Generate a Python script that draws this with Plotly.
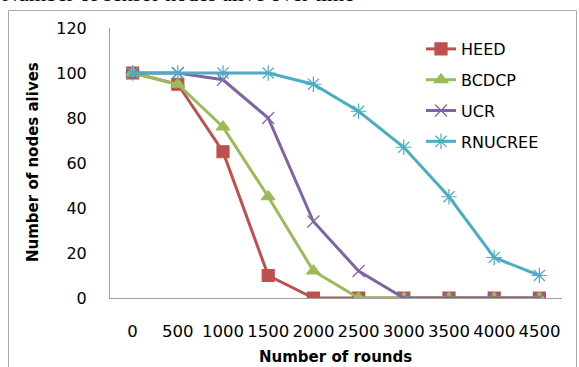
import plotly.graph_objects as go

rounds = ["0", "500", "1000", "1500", "2000", "2500", "3000", "3500", "4000", "4500"]
heed = [100, 95, 65, 10, 0, 0, 0, 0, 0, 0]
bcdcp = [100, 95, 76, 45, 12, 0, 0, 0, 0, 0]
ucr = [100, 100, 97, 80, 34, 12, 0, 0, 0, 0]
rnucree = [100, 100, 100, 100, 95, 83, 67, 45, 18, 10]
y_ticks = [0, 20, 40, 60, 80, 100, 120]

W, H = 579, 367
L, R, T, B = 110, 17, 28, 69
pw, ph = W - L - R, H - T - B

def px(x):
    return (x - L) / pw

def py(y):
    return (H - B - y) / ph

FONT = "DejaVu Sans"

fig = go.Figure()
series = [
    ("HEED", heed, "#C0504D", "square", 12),
    ("BCDCP", bcdcp, "#9BBB59", "triangle-up", 12),
    ("UCR", ucr, "#8064A2", "x-thin-open", 12),
    ("RNUCREE", rnucree, "#4BACC6", "asterisk-open", 13),
]
for name, vals, col, sym, sz in series:
    fig.add_trace(go.Scatter(
        x=rounds, y=vals, name=name, mode="lines+markers",
        line=dict(color=col, width=3),
        marker=dict(symbol=sym, size=sz, color=col,
                    line=dict(color=col, width=1.2)),
        legendgroup=name,
    ))

fig.update_layout(
    width=W, height=H,
    margin=dict(l=L, r=R, t=T, b=B),
    paper_bgcolor="white", plot_bgcolor="white",
    showlegend=True,
    legend=dict(x=px(421), y=py(32), xanchor="left", yanchor="top",
                font=dict(family=FONT, size=16, color="black"),
                bgcolor="rgba(0,0,0,0)", tracegroupgap=7),
    xaxis=dict(type="category", range=[-0.5, 9.5], showgrid=False,
               showline=True, linecolor="#A0A0A0", linewidth=1,
               ticks="", ticklabelstandoff=18,
               tickfont=dict(family=FONT, size=16.5, color="black")),
    yaxis=dict(range=[0, 120], tickvals=y_ticks, showgrid=False,
               showline=True, linecolor="#A0A0A0", linewidth=1,
               ticks="", ticklabelstandoff=19, zeroline=False,
               tickfont=dict(family=FONT, size=16, color="black")),
    annotations=[
        dict(text="<b>Number of rounds</b>", x=px(335), y=py(357),
             xref="paper", yref="paper", showarrow=False,
             xanchor="center", yanchor="middle",
             font=dict(family=FONT, size=15, color="black")),
        dict(text="<b>Number of nodes alives</b>", x=px(33), y=py(162),
             xref="paper", yref="paper", showarrow=False, textangle=-90,
             xanchor="center", yanchor="middle",
             font=dict(family=FONT, size=15, color="black")),
        dict(text="Number of sensor nodes alive over time", x=px(0), y=py(-6.5),
             xref="paper", yref="paper", showarrow=False,
             xanchor="left", yanchor="middle",
             font=dict(family="Liberation Serif", size=22, color="black")),
    ],
    shapes=[
        dict(type="rect", xref="paper", yref="paper",
             x0=px(8.5), x1=px(576.5), y0=py(380), y1=py(10.5),
             line=dict(color="#A8A8A8", width=1), layer="below"),
    ],
)

fig.write_html("out.html")
